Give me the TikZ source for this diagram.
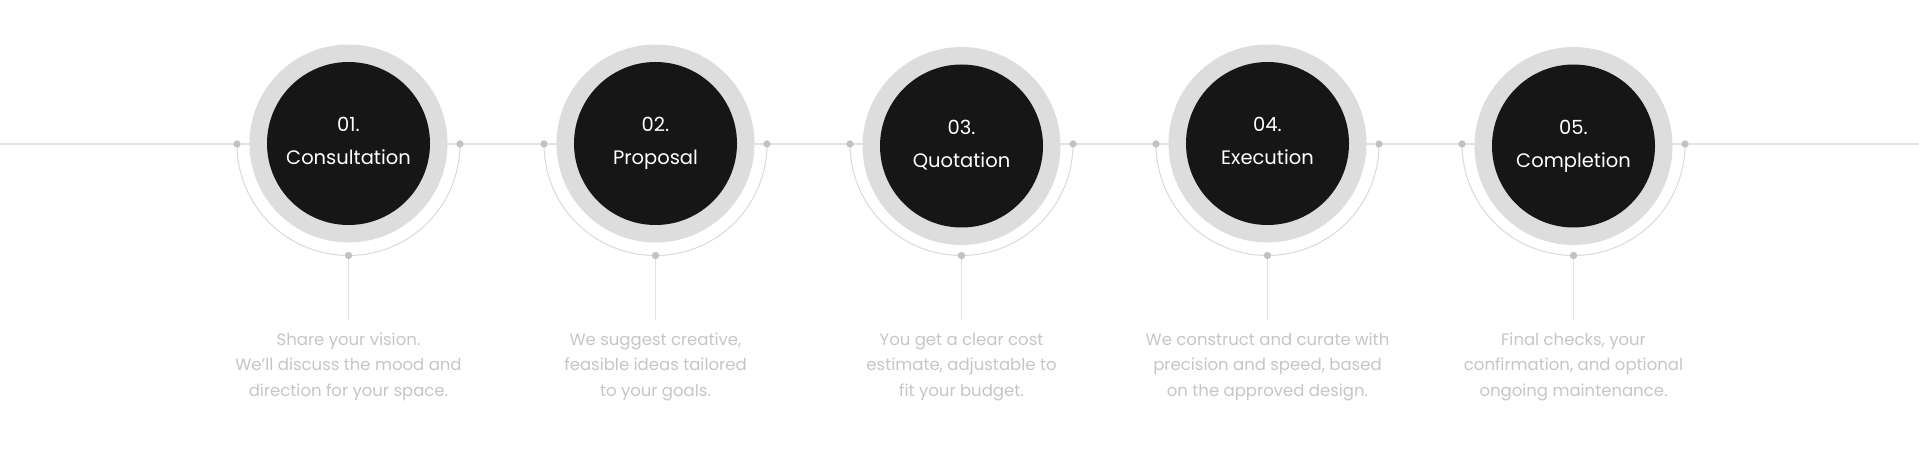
\documentclass[tikz,border=0pt]{standalone}
\usepackage{fontspec}
\setmainfont{Poppins}
\definecolor{ringgray}{HTML}{DDDDDD}
\definecolor{coreblack}{HTML}{161616}
\definecolor{linegray}{HTML}{E2E2E2}
\definecolor{arcgray}{HTML}{DADADA}
\definecolor{dotgray}{HTML}{C2C2C2}
\definecolor{bodygray}{HTML}{C6C6C6}
\begin{document}
\begin{tikzpicture}[x=1pt,y=1pt,
  ring/.style={circle,fill=ringgray,minimum size=198pt,inner sep=0pt},
  core/.style={circle,fill=coreblack,minimum size=163pt,inner sep=0pt},
  dot/.style={circle,fill=dotgray,minimum size=7pt,inner sep=0pt},
  hline/.style={draw=linegray,line width=1.3pt},
  arcline/.style={draw=arcgray,line width=1pt},
  stemline/.style={draw=linegray,line width=1pt},
  num/.style={text=white,font=\fontsize{19.5}{22}\selectfont,anchor=base,inner sep=0pt},
  title/.style={text=white,font=\fontsize{19.5}{22}\selectfont,anchor=base,inner sep=0pt},
  body/.style={text=bodygray,font=\fontsize{16.5}{25.5}\selectfont,align=center,anchor=base,inner sep=0pt}]
\useasboundingbox (0,0) rectangle (1919,-449);
\fill[white] (0,0) rectangle (1919,-449);
\coordinate (hl) at (0,-144);
\coordinate (hr) at (1919,-144);
\draw[hline] (hl) -- (hr);
\foreach \i/\cx/\cy/\n/\t/\d in {
 1/348.5/143.5/01./Consultation/{Share your vision.\\We’ll discuss the mood and\\direction for your space.},
 2/655.5/143.5/02./Proposal/{We suggest creative,\\feasible ideas tailored\\to your goals.},
 3/961.5/146/03./Quotation/{You get a clear cost\\estimate, adjustable to\\fit your budget.},
 4/1267.5/143.5/04./Execution/{We construct and curate with\\precision and speed, based\\on the approved design.},
 5/1573.5/146/05./Completion/{Final checks, your\\confirmation, and optional\\ongoing maintenance.}}{
  \node[dot] (l\i) at (\cx-111.5,-144) {};
  \node[dot] (r\i) at (\cx+111.5,-144) {};
  \node[dot] (b\i) at (\cx,-255.5) {};
  \coordinate (s\i) at (\cx,-320);
  \draw[arcline] (l\i.center) to[out=-90,in=180] (b\i.center) to[out=0,in=-90] (r\i.center);
  \draw[stemline] (b\i.center) -- (s\i);
  \node[ring] (o\i) at (\cx,-\cy) {};
  \node[core] (c\i) at (o\i.center) {};
  \node[num] (n\i) at (\cx,-\cy+11.5) {\n};
  \node[title] (t\i) at (\cx,-\cy-21.5) {\t};
  \node[body] (d\i) at (\cx,-396) {\d};
  \node[dot] at (l\i) {};
  \node[dot] at (r\i) {};
  \node[dot] at (b\i) {};
}
\end{tikzpicture}
\end{document}
